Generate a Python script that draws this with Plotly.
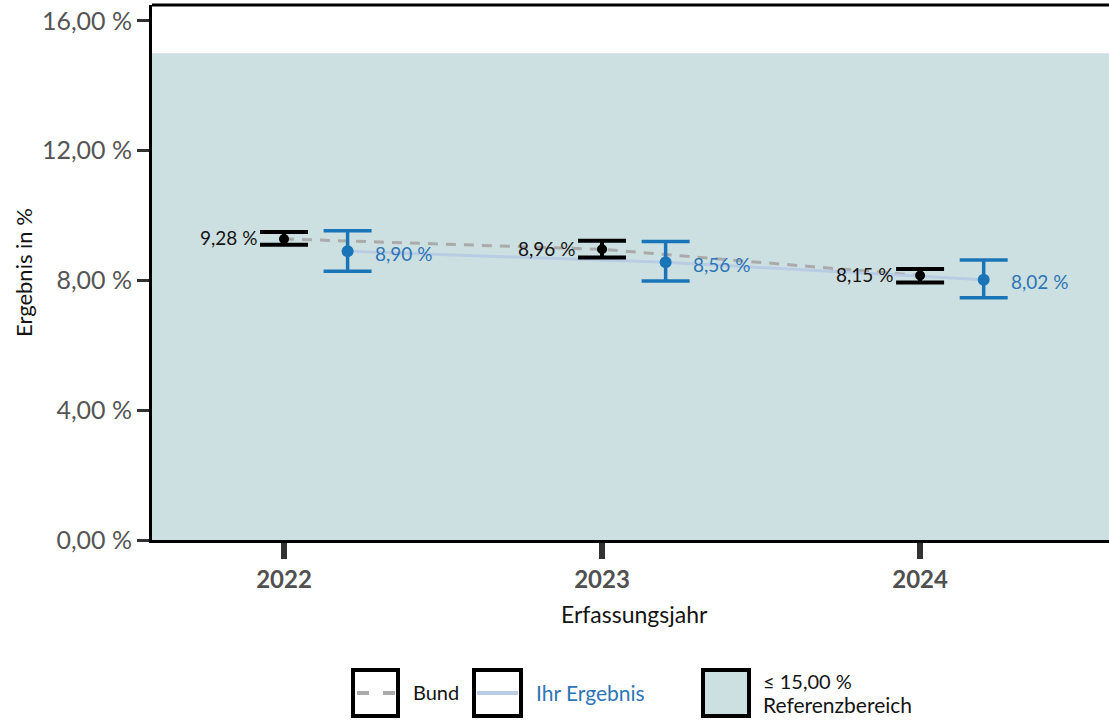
import plotly.graph_objects as go

years = [2022, 2023, 2024]
bund_values = [9.28, 8.96, 8.15]
bund_upper = [9.49, 9.22, 8.35]
bund_lower = [9.10, 8.71, 7.94]
ihr_values = [8.90, 8.56, 8.02]
ihr_upper = [9.53, 9.20, 8.63]
ihr_lower = [8.28, 7.98, 7.47]
ref_upper = 15.0
y_ticks = [0, 4, 8, 12, 16]
y_tick_labels = ["0,00 %", "4,00 %", "8,00 %", "12,00 %", "16,00 %"]

FONT = "Lato"
BLUE = "rgb(26,117,184)"
BLUE_TXT = "rgb(46,117,182)"
BAND = "rgb(205,224,225)"
OFFSET = 0.2

W, H = 1109, 722
L, R, T, B = 152, 1109, 5, 540

def px(x):
    return (x - L) / (R - L)

def py(y):
    return (B - y) / (B - T)

def fmt(v):
    return f"{v:.2f}".replace(".", ",") + " %"

ihr_x = [y + OFFSET for y in years]

fig = go.Figure()

fig.add_trace(go.Scatter(x=years, y=bund_values, mode="lines",
                         line=dict(color="rgb(170,170,170)", width=3, dash="10px,8px"),
                         hoverinfo="skip", showlegend=False))
fig.add_trace(go.Scatter(x=ihr_x, y=ihr_values, mode="lines",
                         line=dict(color="rgb(184,204,228)", width=3),
                         hoverinfo="skip", showlegend=False))
fig.add_trace(go.Scatter(
    x=years, y=bund_values, mode="markers",
    marker=dict(color="black", size=10),
    error_y=dict(type="data", symmetric=False,
                 array=[u - v for u, v in zip(bund_upper, bund_values)],
                 arrayminus=[v - l for v, l in zip(bund_values, bund_lower)],
                 color="black", thickness=4, width=24),
    showlegend=False))
fig.add_trace(go.Scatter(
    x=ihr_x, y=ihr_values, mode="markers",
    marker=dict(color=BLUE, size=12),
    error_y=dict(type="data", symmetric=False,
                 array=[u - v for u, v in zip(ihr_upper, ihr_values)],
                 arrayminus=[v - l for v, l in zip(ihr_values, ihr_lower)],
                 color=BLUE, thickness=3.5, width=24),
    showlegend=False))

shapes = [
    dict(type="rect", xref="paper", yref="y", x0=0, x1=1, y0=0, y1=ref_upper,
         fillcolor=BAND, line=dict(width=0), layer="below"),
    dict(type="line", xref="paper", yref="paper", x0=0, x1=1, y0=1, y1=1,
         line=dict(color="black", width=3)),
]

annotations = []
for x, v in zip(years, bund_values):
    annotations.append(dict(x=x, y=v, xref="x", yref="y", text=fmt(v), showarrow=False,
                            xanchor="right", xshift=-25, yshift=1,
                            font=dict(family=FONT, size=19, color="rgb(20,20,20)")))
for x, v in zip(ihr_x, ihr_values):
    annotations.append(dict(x=x, y=v, xref="x", yref="y", text=fmt(v), showarrow=False,
                            xanchor="left", xshift=25, yshift=-2,
                            font=dict(family=FONT, size=19, color=BLUE_TXT)))

# axis titles
annotations.append(dict(x=px(634), y=py(614), xref="paper", yref="paper", text="Erfassungsjahr",
                        showarrow=False, xanchor="center", yanchor="middle",
                        font=dict(family=FONT, size=23, color="rgb(20,20,20)")))
annotations.append(dict(x=px(23), y=py(273), xref="paper", yref="paper", text="Ergebnis in %",
                        showarrow=False, xanchor="center", yanchor="middle", textangle=-90,
                        font=dict(family=FONT, size=22, color="rgb(20,20,20)")))

# legend
def box(x0, x1, fill="white"):
    shapes.append(dict(type="rect", xref="paper", yref="paper",
                       x0=px(x0), x1=px(x1), y0=py(716), y1=py(670),
                       fillcolor=fill, line=dict(color="black", width=4)))

box(353, 398)
shapes.append(dict(type="line", xref="paper", yref="paper", x0=px(357), x1=px(395),
                   y0=py(693), y1=py(693),
                   line=dict(color="rgb(170,170,170)", width=4, dash="12px,14px")))
annotations.append(dict(x=px(411), y=py(692), xref="paper", yref="paper", text="Bund",
                        showarrow=False, xanchor="left", yanchor="middle",
                        font=dict(family=FONT, size=20, color="rgb(20,20,20)")))
box(474, 521)
shapes.append(dict(type="line", xref="paper", yref="paper", x0=px(477), x1=px(518),
                   y0=py(693), y1=py(693),
                   line=dict(color="rgb(184,204,228)", width=4)))
annotations.append(dict(x=px(534), y=py(692), xref="paper", yref="paper", text="Ihr Ergebnis",
                        showarrow=False, xanchor="left", yanchor="middle",
                        font=dict(family=FONT, size=21, color=BLUE_TXT)))
box(703, 749, fill=BAND)
annotations.append(dict(x=px(761), y=py(681), xref="paper", yref="paper", text="≤ 15,00 %",
                        showarrow=False, xanchor="left", yanchor="middle",
                        font=dict(family=FONT, size=20, color="rgb(20,20,20)")))
annotations.append(dict(x=px(761), y=py(704), xref="paper", yref="paper", text="Referenzbereich",
                        showarrow=False, xanchor="left", yanchor="middle",
                        font=dict(family=FONT, size=21, color="rgb(20,20,20)")))

fig.update_layout(
    width=W, height=H,
    margin=dict(l=L, r=W - R, t=T, b=H - B, pad=0),
    plot_bgcolor="white", paper_bgcolor="white",
    shapes=shapes, annotations=annotations,
    xaxis=dict(range=[2021.585, 2024.594], tickvals=years, ticktext=[str(y) for y in years],
               showgrid=False, zeroline=False, showline=True, linecolor="black", linewidth=3,
               ticks="outside", ticklen=16, tickwidth=6, tickcolor="rgb(50,50,50)",
               tickfont=dict(family=FONT, size=24, color="rgb(80,80,80)", weight="bold")),
    yaxis=dict(range=[0, 16.49], tickvals=y_ticks, ticktext=y_tick_labels,
               showgrid=False, zeroline=False, showline=True, linecolor="black", linewidth=3,
               ticks="outside", ticklen=12, tickwidth=3, tickcolor="rgb(50,50,50)",
               ticklabelstandoff=0,
               tickfont=dict(family=FONT, size=25, color="rgb(85,85,85)")),
)

fig.write_html("out.html", config={"displayModeBar": False},
               post_script="document.body.style.margin='0px';document.body.style.overflow='hidden';")
